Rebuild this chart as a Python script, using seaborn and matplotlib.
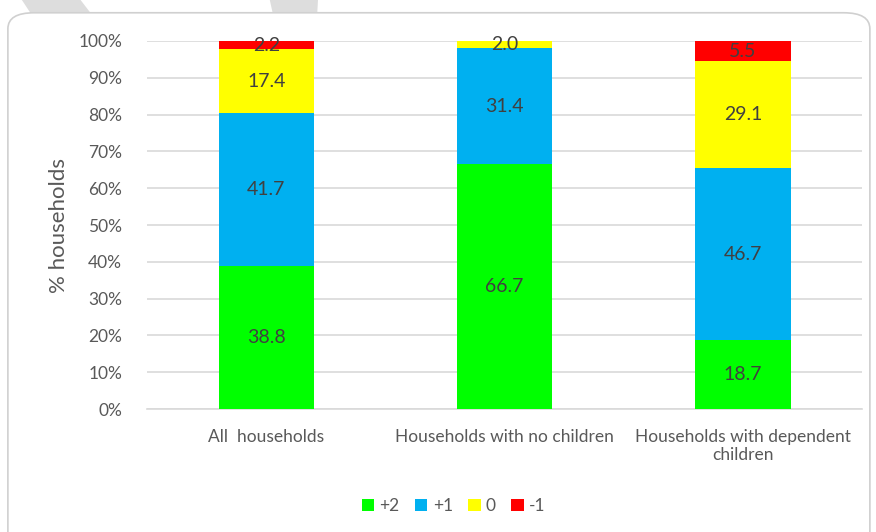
import numpy as np
import pandas as pd
import matplotlib
matplotlib.use("Agg")
import matplotlib.pyplot as plt
import matplotlib.ticker as mtick
from matplotlib.patches import FancyBboxPatch, Polygon
import seaborn as sns

# data
groups = ["All  households", "Households with no children",
          "Households with dependent\nchildren"]
series = ["+2", "+1", "0", "-1"]
plus2 = [38.8, 66.7, 18.7]
plus1 = [41.7, 31.4, 46.7]
zero = [17.4, 2.0, 29.1]
minus1 = [2.2, 0.0, 5.5]
colors = ["#00FF00", "#00B0F0", "#FFFF00", "#FF0000"]

sns.set_theme(style="white")
plt.rcParams["font.family"] = ["Lato", "DejaVu Sans"]

raw = np.array([plus2, plus1, zero, minus1])
share = raw / raw.sum(axis=0) * 100  # 100% stacked, like the original
tops = share.cumsum(axis=0)

fig = plt.figure(figsize=(8.76, 5.32), dpi=100)

# background decoration: grey slanted strips and rounded chart frame
fig.patches.append(Polygon([[0.025, 1.0], [0.092, 1.0], [0.106, 0.97], [0.037, 0.97]],
                           closed=True, transform=fig.transFigure,
                           facecolor="#DDDDDD", edgecolor="none", zorder=0))
fig.patches.append(Polygon([[0.308, 1.0], [0.363, 1.0], [0.362, 0.97], [0.312, 0.97]],
                           closed=True, transform=fig.transFigure,
                           facecolor="#DDDDDD", edgecolor="none", zorder=0))
fig.patches.append(FancyBboxPatch((0.009, -0.05), 0.984, 1.026,
                                  boxstyle="round,pad=0,rounding_size=0.03",
                                  transform=fig.transFigure, facecolor="white",
                                  edgecolor="#D0D0D0", linewidth=1.2, zorder=1))

ax = fig.add_axes([0.168, 0.231, 0.816, 0.692])
ax.set_zorder(2)
ax.patch.set_alpha(0)

# draw stacked bars from the top layer down
for i in range(len(series) - 1, -1, -1):
    df = pd.DataFrame({"group": groups, "value": tops[i]})
    sns.barplot(data=df, x="group", y="value", color=colors[i], width=0.4,
                saturation=1, ax=ax, label=series[i], linewidth=0,
                edgecolor="none", zorder=3)
if ax.get_legend() is not None:
    ax.get_legend().remove()

# value labels centred in each segment
for i in range(len(series)):
    for j in range(len(groups)):
        if raw[i, j] <= 0:
            continue
        mid = tops[i, j] - share[i, j] / 2
        ax.text(j, mid, f"{raw[i, j]:.1f}", ha="center", va="center",
                fontsize=14, color="#404040", zorder=4)

ax.set_ylim(0, 100)
ax.set_xlim(-0.5, 2.5)
ax.set_yticks(np.arange(0, 101, 10))
ax.yaxis.set_major_formatter(mtick.PercentFormatter(decimals=0))
ax.yaxis.grid(True, color="#D9D9D9", linewidth=1.2, zorder=0)
ax.set_axisbelow(True)
for s in ["top", "right", "left"]:
    ax.spines[s].set_visible(False)
ax.spines["bottom"].set_color("#D9D9D9")
ax.spines["bottom"].set_linewidth(1.2)
ax.tick_params(axis="both", length=0, colors="#595959", labelsize=12.5)
ax.tick_params(axis="y", pad=18)
ax.tick_params(axis="x", pad=14)
ax.set_xlabel("")
ax.set_ylabel("% households", fontsize=16, color="#595959", labelpad=7)

handles, labels = ax.get_legend_handles_labels()
order = [labels.index(s) for s in series]
fig.legend([handles[k] for k in order], series, loc="center",
           bbox_to_anchor=(0.518, 0.049), ncol=4, frameon=False,
           fontsize=12.5, labelcolor="#595959", handlelength=0.7,
           handleheight=0.7, handletextpad=0.3, columnspacing=0.9)

fig.savefig("out.png", dpi=100)
